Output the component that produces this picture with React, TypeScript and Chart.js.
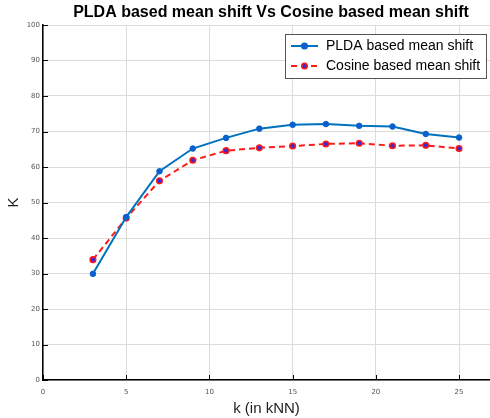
import React, { useEffect, useRef } from "react";
import { Chart, registerables } from "chart.js";

Chart.register(...registerables);

const kValues = [3, 5, 7, 9, 11, 13, 15, 17, 19, 21, 23, 25];
const pldaValues = [29.9, 45.9, 58.8, 65.2, 68.2, 70.8, 71.9, 72.1, 71.6, 71.4, 69.3, 68.3];
const cosineValues = [33.9, 45.6, 56.1, 61.9, 64.6, 65.4, 65.9, 66.5, 66.7, 66.0, 66.1, 65.2];
const xTickValues = [0, 5, 10, 15, 20, 25];
const yTickValues = [0, 10, 20, 30, 40, 50, 60, 70, 80, 90, 100];
const titleText = "PLDA based mean shift Vs Cosine based mean shift";
const xLabel = "k (in kNN)";
const yLabel = "K";
const pldaLabel = "PLDA based mean shift";
const cosineLabel = "Cosine based mean shift";

const BLUE = "#0072BD";
const RED = "#FF1a1a";

const innerTicks = {
  id: "innerTicks",
  afterDatasetsDraw(chart: any) {
    const { ctx, chartArea, scales } = chart;
    ctx.save();
    ctx.strokeStyle = "#000";
    ctx.lineWidth = 1;
    ctx.beginPath();
    for (const v of yTickValues) {
      const y = Math.round(scales.y.getPixelForValue(v)) + 0.5;
      ctx.moveTo(chartArea.left, y);
      ctx.lineTo(chartArea.left + 5, y);
    }
    for (const v of xTickValues) {
      const x = Math.round(scales.x.getPixelForValue(v)) + 0.5;
      ctx.moveTo(x, chartArea.bottom);
      ctx.lineTo(x, chartArea.bottom - 5);
    }
    ctx.stroke();
    ctx.restore();
  },
};

const plotTitle = {
  id: "plotTitle",
  afterDraw(chart: any) {
    const { ctx } = chart;
    ctx.save();
    ctx.fillStyle = "#000";
    ctx.font = "bold 16px 'Liberation Sans', Arial, sans-serif";
    ctx.textAlign = "center";
    ctx.textBaseline = "middle";
    ctx.fillText(titleText, 271, 13);
    ctx.restore();
  },
};

const boxLegend = {
  id: "boxLegend",
  afterDraw(chart: any) {
    const { ctx } = chart;
    const x0 = 285.5, y0 = 34.5, w = 201, h = 44;
    ctx.save();
    ctx.fillStyle = "#fff";
    ctx.fillRect(x0, y0, w, h);
    ctx.strokeStyle = "#555";
    ctx.lineWidth = 1;
    ctx.strokeRect(x0, y0, w, h);
    const rows = [46, 66];
    chart.data.datasets.forEach((ds: any, i: number) => {
      const y = rows[i];
      ctx.strokeStyle = ds.borderColor;
      ctx.lineWidth = 2;
      ctx.setLineDash(ds.borderDash || []);
      ctx.beginPath();
      ctx.moveTo(291, y);
      ctx.lineTo(318, y);
      ctx.stroke();
      ctx.setLineDash([]);
      ctx.beginPath();
      ctx.arc(304.5, y, 2.8, 0, Math.PI * 2);
      ctx.fillStyle = ds.pointBackgroundColor;
      ctx.fill();
      ctx.lineWidth = 1.5;
      ctx.strokeStyle = ds.pointBorderColor;
      ctx.stroke();
      ctx.fillStyle = "#000";
      ctx.font = "14px 'Liberation Sans', Arial, sans-serif";
      ctx.textBaseline = "middle";
      ctx.textAlign = "left";
      ctx.fillText(ds.label, 326, y + 0.5);
    });
    ctx.restore();
  },
};

export default function App() {
  const ref = useRef<HTMLCanvasElement>(null);
  useEffect(() => {
    if (!ref.current) return;
    const chart = new Chart(ref.current, {
      type: "line",
      data: {
        datasets: [
          {
            label: pldaLabel,
            data: kValues.map((k, i) => ({ x: k, y: pldaValues[i] })),
            borderColor: BLUE,
            borderWidth: 2,
            pointRadius: 2.8,
            pointBackgroundColor: "#0a5fd0",
            pointBorderColor: "#0a66cc",
            pointBorderWidth: 1,
            tension: 0,
          },
          {
            label: cosineLabel,
            data: kValues.map((k, i) => ({ x: k, y: cosineValues[i] })),
            borderColor: RED,
            borderWidth: 2,
            borderDash: [6, 4],
            pointRadius: 2.8,
            pointBackgroundColor: "#3a2ad0",
            pointBorderColor: RED,
            pointBorderWidth: 1.5,
            tension: 0,
          },
        ],
      },
      options: {
        responsive: false,
        animation: false,
        layout: { padding: { top: 25, left: 0, right: 0, bottom: 0 }, autoPadding: false },
        plugins: {
          legend: { display: false },
          tooltip: { enabled: false },
          title: { display: false },
        },
        scales: {
          x: {
            type: "linear",
            min: 0,
            max: 26.86,
            afterFit: (s: any) => {
              s.height = 38;
            },
            afterBuildTicks: (s: any) => {
              s.ticks = xTickValues.map((v) => ({ value: v }));
            },
            ticks: {
              stepSize: 5,
              includeBounds: false,
              padding: 8,
              color: "#555",
              font: { family: "'DejaVu Sans', sans-serif", size: 7 },
              maxRotation: 0,
            },
            grid: { color: "#dcdcdc", drawTicks: false, lineWidth: 1 },
            border: { display: true, color: "#000", width: 1.5 },
            title: {
              display: true,
              text: xLabel,
              color: "#222",
              font: { family: "'Liberation Sans', Arial, sans-serif", size: 15 },
              padding: { top: 0, bottom: 0 },
            },
          },
          y: {
            min: 0,
            max: 100,
            afterFit: (s: any) => {
              s.width = 43;
            },
            afterBuildTicks: (s: any) => {
              s.ticks = yTickValues.map((v) => ({ value: v }));
            },
            ticks: {
              stepSize: 10,
              padding: 3,
              color: "#555",
              font: { family: "'DejaVu Sans', sans-serif", size: 7 },
            },
            grid: { color: "#dcdcdc", drawTicks: false, lineWidth: 1 },
            border: { display: true, color: "#000", width: 1.5 },
            title: {
              display: true,
              text: yLabel,
              color: "#222",
              font: { family: "'Liberation Sans', Arial, sans-serif", size: 15 },
              padding: { top: 5, bottom: 4 },
            },
          },
        },
      },
      plugins: [innerTicks, plotTitle, boxLegend],
    });
    return () => chart.destroy();
  }, []);
  return (
    <div style={{ position: "absolute", left: 0, top: 0, width: 490, height: 418, background: "#fff" }}>
      <canvas ref={ref} width={490} height={418} style={{ display: "block" }} />
    </div>
  );
}
